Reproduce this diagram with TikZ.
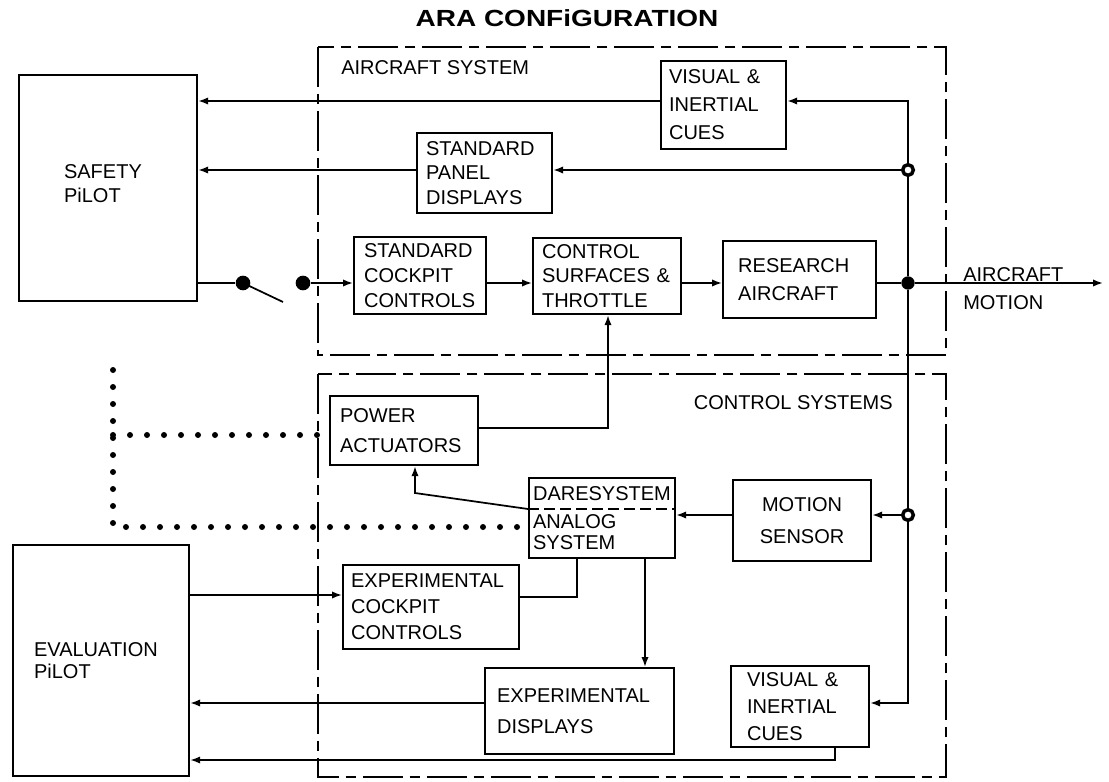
\documentclass[tikz,border=0pt]{standalone}
\usepackage{fontspec}
\setmainfont{Liberation Sans}
\usetikzlibrary{arrows.meta,calc}
\begin{document}
\begin{tikzpicture}[x=0.75pt,y=-0.75pt,
  bx/.style={draw,line width=1.6pt,anchor=north west,inner ysep=0pt,align=left,font=\fontsize{15}{18.5}\selectfont},
  lbl/.style={inner sep=0pt,font=\fontsize{15}{18.5}\selectfont},
  ln/.style={line width=1.3pt},
  arr/.style={line width=1.3pt,-{Latex[length=7.5pt,width=5.5pt]}},
  bord/.style={line width=1.6pt,dash pattern=on 30pt off 5pt on 8pt off 5pt},
  dots/.style={line width=4.5pt,line cap=round,dash pattern=on 0pt off 12.75pt},
  jn/.style={circle,draw,line width=2.6pt,fill=white,inner sep=0pt,minimum size=8pt},
  jnf/.style={circle,fill,inner sep=0pt,minimum size=10pt},
  dot/.style={circle,fill,inner sep=0pt,minimum size=11pt}]
\useasboundingbox (0,0) rectangle (1109,781);

% title
\node[inner sep=0pt,font=\fontsize{17.5}{20}\selectfont\bfseries] (title) at (567,18) {\scalebox{1.2}[1]{ARA CONFiGURATION}};

% frames
\draw[bord] (318,47) rectangle (946,355);
\draw[bord] (318,374) rectangle (946,777);
\node[lbl,anchor=west] (asys) at (341,68) {AIRCRAFT SYSTEM};
\node[lbl,anchor=east] (csys) at (893,403) {CONTROL SYSTEMS};

% boxes
\node[bx,minimum width=178*0.75pt,minimum height=226*0.75pt,inner xsep=45*0.75pt,text width=66pt,font=\fontsize{15}{18}\selectfont] (safety) at (18,74) {SAFETY\\PiLOT\\[-10.5pt]\mbox{}};
\node[bx,minimum width=176*0.75pt,minimum height=231*0.75pt,inner xsep=21*0.75pt,text width=100.5pt,font=\fontsize{15}{16.5}\selectfont] (eval) at (12,544) {EVALUATION\\PiLOT};
\node[bx,minimum width=125*0.75pt,minimum height=88*0.75pt,inner xsep=8*0.75pt,text width=81.75pt,font=\fontsize{15}{21}\selectfont] (vis1) at (660,60) {VISUAL \&\\INERTIAL\\CUES};
\node[bx,minimum width=135*0.75pt,minimum height=80*0.75pt,inner xsep=9*0.75pt,text width=87.75pt] (spd) at (416,132) {STANDARD\\PANEL\\DISPLAYS};
\node[bx,minimum width=132*0.75pt,minimum height=77*0.75pt,inner xsep=10*0.75pt,text width=84pt] (scc) at (353,236) {STANDARD\\COCKPIT\\CONTROLS};
\node[bx,minimum width=148*0.75pt,minimum height=76*0.75pt,inner xsep=9*0.75pt,text width=97.5pt] (csf) at (532,237) {CONTROL\\SURFACES \&\\THROTTLE};
\node[bx,minimum width=153*0.75pt,minimum height=77*0.75pt,inner xsep=15*0.75pt,text width=92pt,font=\fontsize{15}{21}\selectfont] (ra) at (722,240) {RESEARCH\\AIRCRAFT};
\node[bx,minimum width=148*0.75pt,minimum height=69*0.75pt,inner xsep=10*0.75pt,text width=96pt,font=\fontsize{15}{22}\selectfont] (pa) at (329,395) {POWER\\ACTUATORS};
\node[bx,minimum width=146*0.75pt,minimum height=80*0.75pt,inner xsep=4*0.75pt,text width=103.5pt,font=\fontsize{15}{16}\selectfont] (dare) at (528,477) {DARESYSTEM\\[5pt]ANALOG\\SYSTEM};
\node[bx,minimum width=138*0.75pt,minimum height=81*0.75pt,align=center,font=\fontsize{15}{24}\selectfont] (mot) at (732,479) {MOTION\\SENSOR};
\node[bx,minimum width=176*0.75pt,minimum height=84*0.75pt,inner xsep=8*0.75pt,text width=120pt,font=\fontsize{15}{19.5}\selectfont] (ecc) at (342,564) {EXPERIMENTAL\\COCKPIT\\CONTROLS};
\node[bx,minimum width=189*0.75pt,minimum height=86*0.75pt,inner xsep=12*0.75pt,text width=123.75pt,font=\fontsize{15}{23}\selectfont] (ed) at (484,667) {EXPERIMENTAL\\DISPLAYS};
\node[bx,minimum width=138*0.75pt,minimum height=81*0.75pt,inner xsep=16*0.75pt,text width=79.5pt,font=\fontsize{15}{20}\selectfont] (vis2) at (730,665) {VISUAL \&\\INERTIAL\\CUES};

\node[lbl,anchor=west,align=left,font=\fontsize{15}{21}\selectfont] (am) at (963,289) {AIRCRAFT\\MOTION};

% coordinates and junctions
\coordinate (r) at (0,283);
\coordinate (J1) at (908,101);
\node[jn] (J2) at (908,170) {};
\node[jnf] (J3) at (908,283) {};
\node[jn] (J4) at (908,515) {};
\coordinate (J5) at (908,703);
\coordinate (out) at (1103,283);
\node[dot] (sw1) at (243,283) {};
\node[dot] (sw2) at (303,283) {};
\coordinate (blade) at (283,302);

% switch row
\draw[ln] (safety.east |- sw1) -- (sw1);
\draw[ln] (sw1.center) -- (blade);
\draw[arr] (sw2) -- (scc.west |- sw2);
\draw[arr] (scc.east |- r) -- (csf.west |- r);
\draw[arr] (csf.east |- r) -- (ra.west |- r);
\draw[ln] (ra.east |- r) -- (J3);
\draw[arr] (J3) -- (out);

% feedback to safety pilot
\draw[ln] (J3) -- (J2);
\draw[arr] (J2.north) -- (J1) -- (vis1.east |- J1);
\draw[arr] (vis1.west |- J1) -- (safety.east |- J1);
\draw[arr] (J2) -- (spd.east |- J2);
\draw[arr] (spd.west |- J2) -- (safety.east |- J2);

% control systems
\draw[ln] (J3) -- (J4);
\draw[arr] (J4.south) -- (J5) -- (vis2.east |- J5);
\draw[arr] (J4) -- (mot.east |- J4);
\draw[arr] (mot.west |- J4) -- (dare.east |- J4);
\coordinate (dy) at (0,509);
\coordinate (k) at (415,493);
\draw[arr] (dare.west |- dy) -- (k) -- (pa.south -| k);
\draw[line width=1.2pt,dash pattern=on 8pt off 4pt] (dare.west |- dy) -- (dare.east |- dy);
\coordinate (pc) at (608,428);
\draw[arr] (pa.east |- pc) -- (pc) -- (csf.south -| pc);
\coordinate (de) at (577,597);
\draw[ln] (dare.south -| de) -- (de) -- (ecc.east |- de);
\coordinate (dd) at (645,0);
\draw[arr] (dare.south -| dd) -- (ed.north -| dd);
\coordinate (ee) at (0,595);
\draw[arr] (eval.east |- ee) -- (ecc.west |- ee);
\draw[arr] (ed.west |- J5) -- (eval.east |- J5);
\coordinate (vb) at (835,760);
\draw[arr] (vis2.south -| vb) -- (vb) -- (eval.east |- vb);

% dotted links
\coordinate (d0) at (113,370);
\coordinate (d1) at (113,435);
\coordinate (d2) at (113,527);
\draw[dots] (d0) -- (d2) -- ($(dare.west |- d2)+(-10,0)$);
\draw[dots] (d1) -- (pa.west |- d1);
\end{tikzpicture}
\end{document}
